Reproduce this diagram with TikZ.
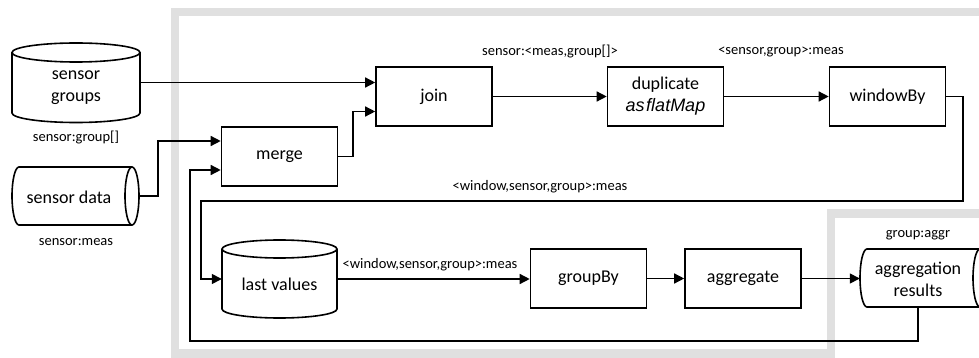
\documentclass[tikz,border=0pt]{standalone}
\usepackage{fontspec}
\setmainfont{Carlito}
\newfontfamily\arialfont{Liberation Sans}
\usetikzlibrary{arrows.meta,calc}
\definecolor{framegray}{RGB}{224,224,224}
\begin{document}
\begin{tikzpicture}[x=1pt,y=-1pt,
  box/.style={draw,line width=1.6pt,minimum width=116pt,minimum height=59pt,inner sep=0pt,font=\fontsize{18}{22}\selectfont,align=center},
  area/.style={draw=none,inner sep=0pt},
  ctext/.style={inner sep=0pt,font=\fontsize{18}{22}\selectfont,align=center},
  lbl/.style={font=\fontsize{14.5}{17}\selectfont,inner sep=0pt},
  conn/.style={line width=1.4pt},
  arr/.style={conn,-{Triangle[length=10pt,width=10pt]}},
  cyl/.style={line width=1.6pt},
  frame/.style={draw=framegray,line width=8.5pt}
]
\useasboundingbox (0,0) rectangle (979,358);
% gray frames
\draw[frame] (175,12) rectangle (984,353.5);
\draw[frame,fill=white] (831,213.5) rectangle (984,365);

% sensor groups (vertical cylinder)
\draw[cyl] (12,52.5) -- (12,113) arc[start angle=180,end angle=360,x radius=64pt,y radius=9.5pt] -- (140,52.5);
\draw[cyl] (76,52.5) ellipse[x radius=64pt,y radius=9.5pt];
\node[area,minimum width=128pt,minimum height=79pt] (sg) at (76,82.5) {};
\node[ctext] (sgt) at (76,88) {sensor\\groups};
\node[lbl] (sgl) at (76,138) {sensor:group[]};

% sensor data (horizontal cylinder)
\draw[cyl] (132,225) -- (19,225) arc[start angle=270,end angle=90,x radius=7pt,y radius=29pt] -- (132,167);
\draw[cyl] (132,196) ellipse[x radius=7pt,y radius=29pt];
\node[area,minimum width=127pt,minimum height=58pt] (sd) at (75.5,196) {};
\node[ctext] (sdt) at (69,197) {sensor data};
\node[lbl] (sdl) at (76,242) {sensor:meas};

% boxes
\node[box] (merge) at (279.5,156.5) {merge};
\node[box] (join) at (434,96.5) {join};
\node[box] (dup) at (665.5,96.5) {duplicate\\{\arialfont\itshape as\kern1.5pt flatMap}};
\node[box] (wb) at (887.5,96.5) {windowBy};
\node[box] (gb) at (588.5,278.5) {groupBy};
\node[box] (agg) at (743,278.5) {aggregate};

% last values (vertical cylinder)
\draw[cyl] (222,249) -- (222,309) arc[start angle=180,end angle=360,x radius=57.5pt,y radius=9pt] -- (337,249);
\draw[cyl] (279.5,249) ellipse[x radius=57.5pt,y radius=9pt];
\node[area,minimum width=115pt,minimum height=78pt] (lv) at (279.5,279) {};
\node[ctext] (lvt) at (279.5,284) {last values};

% aggregation results (horizontal cylinder)
\draw[cyl] (980,307) -- (867,307) arc[start angle=270,end angle=90,x radius=7pt,y radius=29pt] -- (980,249);
\draw[cyl] (980,278) ellipse[x radius=7pt,y radius=29pt];
\node[area,minimum width=116pt,minimum height=58pt] (ar) at (918,278) {};
\node[ctext] (art) at (918,279.5) {aggregation\\results};
\node[lbl] (arl) at (918,235) {group:aggr};

% labels
\node[lbl] (l1) at (550,52) {sensor:<meas,group[]>};
\node[lbl] (l2) at (781,52) {<sensor,group>:meas};
\node[lbl] (l3) at (540,187) {<window,sensor,group>:meas};
\node[lbl] (l4) at (430,265) {<window,sensor,group>:meas};

% bend points
\coordinate (c1) at (158,141);
\coordinate (c2) at (190,341);
\coordinate (c3) at (190,170);
\coordinate (c4) at (353,111.5);
\coordinate (c5) at (963,201);
\coordinate (c6) at (201,201);

% connectors
\draw[arr] (sg.east) -- (sg.east -| join.west);
\draw[arr] (sd.east) -| (c1) -- (c1 -| merge.west);
\draw[arr] (ar.south) |- (c2) -- (c3) -- (c3 -| merge.west);
\draw[arr] (merge.east) -| (c4) -- (c4 -| join.west);
\draw[arr] (join) -- (dup);
\draw[arr] (dup) -- (wb);
\draw[arr] (wb.east) -| (c5) -- (c6) |- (lv.west);
\draw[arr] (lv.east) -- (lv.east -| gb.west);
\draw[arr] (gb) -- (agg);
\draw[arr] (agg.east) -- (agg.east -| ar.west);
\end{tikzpicture}
\end{document}
